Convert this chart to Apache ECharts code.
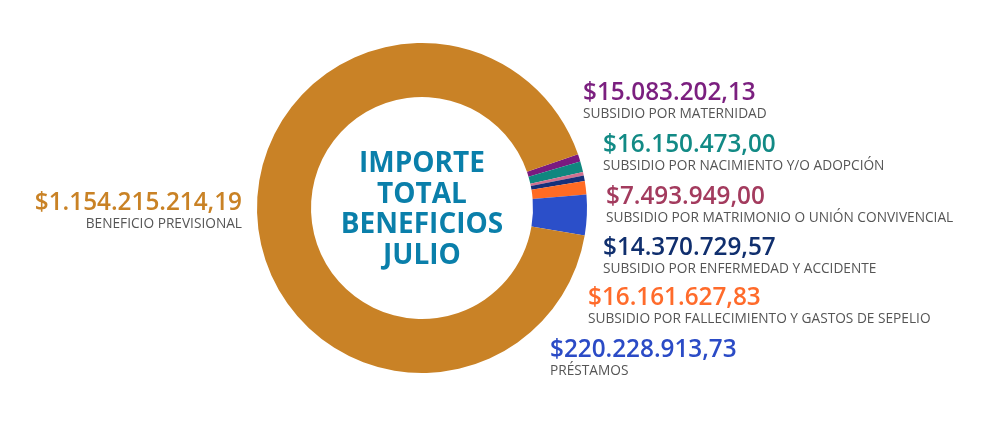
<!DOCTYPE html>
<html>
<head>
<meta charset="utf-8">
<script src="https://cdn.jsdelivr.net/npm/echarts@6/dist/echarts.min.js"></script>
<style>
  html, body { margin: 0; padding: 0; background: #fff; }
  #container { width: 1000px; height: 425px; }
</style>
</head>
<body>
<div id="container"></div>
<script>
// conceptos (orden horario desde arriba a la derecha)
var names = [
    'SUBSIDIO POR MATERNIDAD',
    'SUBSIDIO POR NACIMIENTO Y/O ADOPCIÓN',
    'SUBSIDIO POR MATRIMONIO O UNIÓN CONVIVENCIAL',
    'SUBSIDIO POR ENFERMEDAD Y ACCIDENTE',
    'SUBSIDIO POR FALLECIMIENTO Y GASTOS DE SEPELIO',
    'PRÉSTAMOS',
    'BENEFICIO PREVISIONAL'
];
// importes que muestran las etiquetas
var amounts = [15083202.13, 16150473.00, 7493949.00, 14370729.57, 16161627.83, 220228913.73, 1154215214.19];
// tamaño de cada porción tal como se ve en el gráfico (grados)
var sliceShare = [2.6, 3.8, 1.2, 2.0, 4.7, 14.3, 331.4];
var colors = ['#7a1a80', '#10877f', '#d0708f', '#16307a', '#ff6b24', '#2b4fc9', '#c98226'];
var labelColors = ['#7b1f7f', '#128a85', '#a33b5e', '#102f6e', '#ff6b2b', '#2b4bc6', '#c98225'];

// posiciones de las etiquetas (esquina del bloque)
var labelPos = [
    [583, 82, 'left'],
    [603, 134, 'left'],
    [606, 186, 'left'],
    [603, 237, 'left'],
    [588, 287, 'left'],
    [550, 339, 'left'],
    [242, 192, 'right']
];

function formatMoney(n) {
    var parts = n.toFixed(2).split('.');
    var ent = parts[0].replace(/\B(?=(\d{3})+(?!\d))/g, '.');
    return '$' + ent + ',' + parts[1];
}

var myChart = echarts.init(document.getElementById('container'));

var data = names.map(function (n, i) {
    return {
        name: n,
        value: sliceShare[i],
        itemStyle: { color: colors[i] },
        label: {
            rich: {
                v: { fontSize: 24.3, fontWeight: 600, lineHeight: 23, color: labelColors[i], fontFamily: 'Open Sans', align: labelPos[i][2] },
                n: { fontSize: 13.7, lineHeight: 18, color: '#555555', fontFamily: 'Open Sans', align: labelPos[i][2] }
            }
        }
    };
});

var option = {
    backgroundColor: '#ffffff',
    animation: false,
    graphic: [{
        type: 'text',
        x: 422,
        y: 210,
        style: {
            text: 'IMPORTE\nTOTAL\nBENEFICIOS\nJULIO',
            fill: '#0a7faa',
            font: 'bold 28px "Open Sans"',
            lineHeight: 30.5,
            align: 'center',
            verticalAlign: 'middle'
        }
    }],
    series: [{
        type: 'pie',
        center: [422, 208],
        radius: [111, 165],
        startAngle: 19,
        clockwise: true,
        avoidLabelOverlap: false,
        label: {
            show: true,
            position: 'outside',
            formatter: function (p) {
                return '{v|' + formatMoney(amounts[p.dataIndex]) + '}\n{n|' + p.name + '}';
            }
        },
        labelLine: { show: false },
        labelLayout: function (p) {
            var pos = labelPos[p.dataIndex];
            return { x: pos[0], y: pos[1], align: pos[2], verticalAlign: 'top', hideOverlap: false };
        },
        emphasis: { disabled: true },
        data: data
    }]
};

myChart.setOption(option);
</script>
</body>
</html>
